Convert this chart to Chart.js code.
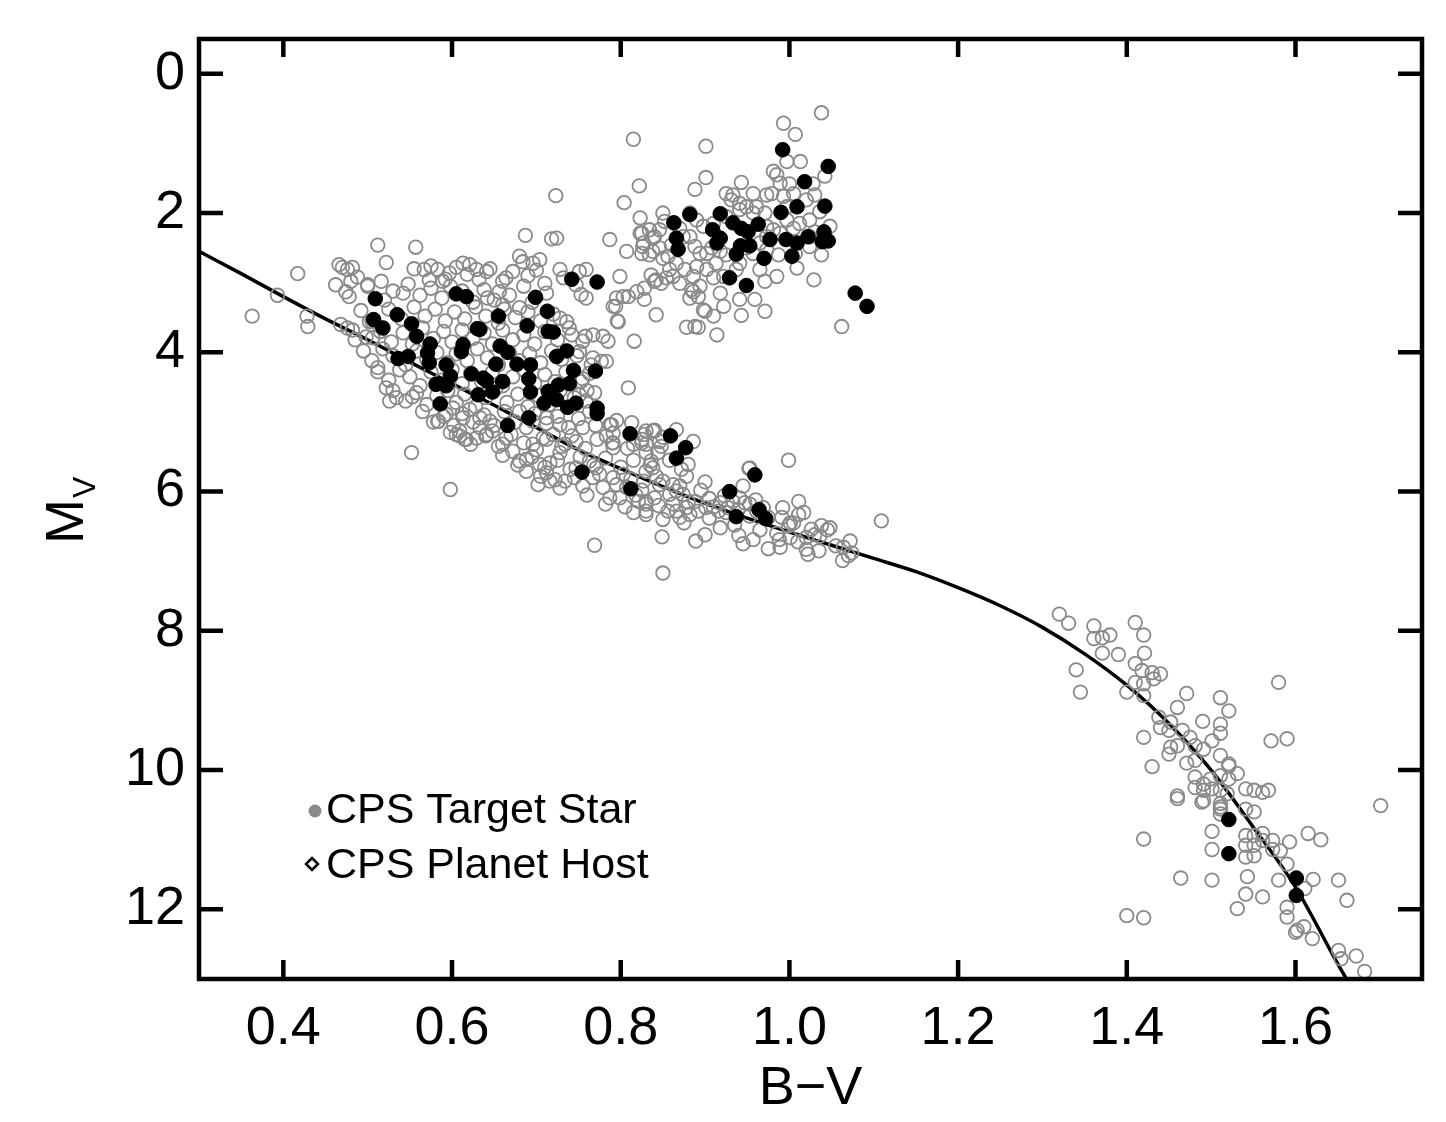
<!DOCTYPE html>
<html lang="en">
<head>
<meta charset="UTF-8">
<title>CPS targets - B-V vs M_V</title>
<script src="https://cdn.jsdelivr.net/npm/chart.js"></script>
<style>
  html, body { margin: 0; padding: 0; background: #fff; }
  #wrap { width: 1446px; height: 1122px; position: relative; }
</style>
</head>
<body>
<div id="wrap"><canvas id="hrChart"></canvas></div>
<script>
// axis ticks
const xTicks = [0.4, 0.6, 0.8, 1.0, 1.2, 1.4, 1.6];
const yTicks = [0, 2, 4, 6, 8, 10, 12];

// main sequence curve (B-V, Mv)
const curveBV = [0.30, 0.35, 0.40, 0.45, 0.50, 0.55, 0.60, 0.65, 0.70, 0.75, 0.80, 0.85, 0.90, 0.95, 1.00,
                 1.05, 1.10, 1.15, 1.20, 1.25, 1.30, 1.35, 1.40, 1.45, 1.50, 1.55, 1.60, 1.65, 1.67];
const curveMV = [2.55, 2.87, 3.20, 3.52, 3.82, 4.14, 4.45, 4.76, 5.08, 5.40, 5.67, 5.93, 6.17, 6.38, 6.58,
                 6.77, 6.96, 7.15, 7.38, 7.64, 7.95, 8.33, 8.78, 9.33, 10.00, 10.82, 11.68, 12.78, 13.20];

// CPS target stars, [B-V, Mv]
const targetsGiant = [
  [0.815,0.94],[0.901,1.04],[0.993,0.71],[1.007,0.87],[1.038,0.56],[0.822,1.61],[0.804,1.85],[0.888,1.66],
  [0.901,1.49],[0.943,1.56],[1.013,1.26],[0.997,1.26],[0.981,1.40],[0.985,1.45],[0.989,1.57],[1.000,1.58],
  [1.028,1.58],[1.042,1.47],[1.030,1.74],[1.005,1.72],[0.973,1.74],[0.961,1.91],[0.941,1.86],[0.933,1.74],
  [0.925,1.72],[0.931,1.81],[0.949,1.91],[0.957,2.00],[0.971,2.00],[0.997,1.91],[1.020,1.81],[1.036,1.98],
  [1.048,2.19],[1.024,2.10],[1.012,2.15],[1.005,2.22],[0.989,2.29],[0.981,2.24],[0.973,2.34],[0.965,2.43],
  [0.957,2.58],[0.987,2.60],[1.007,2.58],[1.024,2.48],[1.038,2.60],[1.009,2.79],[1.029,2.96],[1.062,3.63],
  [0.971,2.98],[0.959,3.24],[0.971,3.41],[0.943,3.47],[0.985,2.91],[0.965,2.81],[0.941,2.72],[0.925,2.60],
  [0.913,2.72],[0.937,2.81],[0.922,2.91],[0.910,2.93],[0.902,2.81],[0.890,2.77],[0.886,2.91],[0.892,3.20],
  [0.898,3.39],[0.910,3.48],[0.914,3.75],[0.888,3.63],[0.878,3.64],[0.882,2.00],[0.890,2.10],[0.898,2.19],
  [0.910,2.15],[0.925,2.05],[0.941,1.95],[0.870,2.22],[0.874,2.34],[0.882,2.34],[0.888,2.48],[0.894,2.58],
  [0.902,2.58],[0.908,2.50],[0.850,2.00],[0.852,2.12],[0.846,2.24],[0.840,2.34],[0.834,2.24],[0.823,2.29],
  [0.827,2.43],[0.838,2.55],[0.846,2.50],[0.850,2.65],[0.856,2.62],[0.823,2.07],[0.825,2.58],[0.807,2.55],
  [0.787,2.38],[0.836,2.89],[0.842,2.96],[0.848,3.01],[0.854,2.93],[0.799,2.91],[0.828,3.08],[0.819,3.13],
  [0.809,3.20],[0.795,3.22],[0.791,3.34],[0.842,3.46],[0.797,3.56],[0.858,2.81],[0.866,2.72],[0.876,2.81],
  [0.870,3.01],[0.884,3.10],[0.918,3.15],[0.941,3.24],[0.860,2.46],[0.918,2.55],[0.949,2.50],[0.973,2.53],
  [1.024,2.34],[1.030,2.27],[0.973,2.19],[0.997,2.10],[0.993,1.76],[0.979,1.72],[0.957,1.72],[0.723,1.75],
  [0.816,3.84],[0.900,3.41],[0.922,3.34],[0.886,3.13],[0.894,3.05],[0.882,3.22],[0.840,2.98],[0.862,2.91],
  [0.803,3.20],[0.828,3.24],[0.794,3.34],[0.796,3.55],[0.826,2.48],[0.825,2.29],[0.838,2.36],[0.834,2.60],
  [0.892,3.64]
];

const targetsSubgiant = [
  [0.687,2.32],[0.718,2.37],[0.724,2.36],[0.751,2.84],[0.759,2.81],[0.747,3.03],[0.753,3.17],[0.759,3.22],
  [0.728,2.81],[0.732,2.93],[0.710,3.01],[0.712,3.15],[0.704,2.67],[0.696,2.72],[0.684,2.70],[0.680,2.62],
  [0.672,2.84],[0.664,2.93],[0.656,3.13],[0.641,2.84],[0.642,3.22],[0.660,3.32],[0.680,3.36],[0.728,3.51],
  [0.736,3.56],[0.739,3.65],[0.755,3.84],[0.751,3.99],[0.758,3.77],[0.767,3.75],[0.779,3.77],[0.785,3.84],
  [0.767,4.08],[0.777,4.13],[0.783,4.13],[0.763,4.30],[0.753,4.42],[0.769,4.58],[0.751,4.61],[0.759,4.70],
  [0.763,4.85],[0.789,5.04],[0.813,5.01],[0.830,5.13],[0.840,5.12],[0.825,5.25],[0.846,5.28],[0.866,5.11],
  [0.886,5.28],[0.783,5.20],[0.791,5.30],[0.809,4.51]
];

const targetsMS = [
  // sparse upper-left edge
  [0.512,2.46],[0.557,2.49],[0.522,2.71],[0.417,2.87],[0.466,2.74],[0.476,2.81],[0.482,2.78],[0.462,3.03],
  [0.474,3.13],[0.478,3.20],[0.480,2.98],[0.393,3.18],[0.363,3.48],[0.428,3.48],[0.429,3.63],[0.468,3.60],
  [0.476,3.65],[0.485,3.82],[0.500,3.03],[0.516,2.98],[0.542,3.15],[0.502,3.56],[0.506,3.79],[0.512,4.22],
  [0.522,4.51],[0.526,4.70],[0.534,4.65],[0.553,4.64],[0.584,4.99],[0.609,5.20],[0.617,5.25],[0.552,5.44],
  [0.567,2.81],[0.583,2.81],[0.597,2.86],[0.613,2.72],[0.621,2.74],[0.629,2.81],[0.573,2.96],[0.589,2.98],
  [0.598,5.97],
  // dense core
  [0.470,2.78],[0.488,2.92],[0.555,2.80],[0.575,2.76],[0.592,2.95],[0.605,2.78],[0.618,2.88],[0.632,2.95],
  [0.645,2.80],[0.660,2.98],[0.690,2.90],[0.700,2.82],
  [0.500,3.05],[0.520,3.25],[0.530,3.12],[0.548,3.02],[0.562,3.18],[0.575,3.08],[0.588,3.22],[0.598,3.05],
  [0.612,3.12],[0.625,3.28],[0.638,3.10],[0.650,3.25],[0.668,3.18],[0.685,3.05],[0.695,3.28],
  [0.492,3.40],[0.505,3.55],[0.525,3.38],[0.540,3.52],[0.555,3.35],[0.568,3.48],[0.580,3.38],[0.592,3.55],
  [0.603,3.42],[0.615,3.52],[0.628,3.35],[0.640,3.48],[0.655,3.58],[0.662,3.38],[0.675,3.50],[0.690,3.42],
  [0.705,3.55],[0.720,3.45],
  [0.482,3.68],[0.498,3.78],[0.515,3.70],[0.528,3.85],[0.542,3.72],[0.553,3.88],[0.565,3.65],[0.578,3.80],
  [0.590,3.70],[0.600,3.85],[0.612,3.68],[0.625,3.80],[0.638,3.72],[0.648,3.88],[0.660,3.68],[0.672,3.82],
  [0.685,3.75],[0.698,3.88],[0.710,3.70],[0.725,3.82],[0.742,3.75],
  [0.495,3.98],[0.505,4.12],[0.518,3.95],[0.530,4.05],[0.545,4.18],[0.558,3.98],[0.570,4.10],[0.582,4.00],
  [0.595,4.15],[0.605,4.02],[0.618,4.12],[0.630,3.95],[0.642,4.08],[0.655,4.18],[0.668,4.00],[0.680,4.12],
  [0.692,4.02],[0.705,4.15],[0.718,3.98],[0.730,4.10],[0.748,4.05],[0.765,4.18],
  [0.512,4.28],[0.525,4.40],[0.538,4.25],[0.550,4.35],[0.562,4.48],[0.575,4.28],[0.588,4.40],[0.600,4.25],
  [0.612,4.45],[0.622,4.30],[0.635,4.42],[0.648,4.28],[0.660,4.48],[0.672,4.35],[0.685,4.25],[0.698,4.45],
  [0.710,4.32],[0.722,4.42],[0.735,4.28],[0.755,4.38],
  [0.530,4.55],[0.545,4.70],[0.558,4.58],[0.570,4.75],[0.582,4.62],[0.595,4.55],[0.605,4.72],[0.615,4.60],
  [0.628,4.78],[0.640,4.65],[0.652,4.52],[0.665,4.72],[0.678,4.60],[0.690,4.78],[0.702,4.62],[0.715,4.75],
  [0.728,4.55],[0.745,4.65],[0.760,4.55],
  [0.565,4.85],[0.578,5.00],[0.590,4.92],[0.602,5.05],[0.612,4.88],[0.625,5.00],[0.638,4.90],[0.650,5.05],
  [0.662,4.85],[0.675,5.00],[0.688,5.08],[0.698,4.88],[0.712,5.02],[0.725,4.92],[0.738,5.08],[0.750,4.95],
  [0.770,5.05],[0.795,4.98],
  [0.598,5.15],[0.622,5.32],[0.640,5.20],[0.655,5.35],[0.670,5.18],[0.685,5.30],[0.700,5.40],[0.712,5.25],
  [0.730,5.35],[0.742,5.20],[0.758,5.38],[0.772,5.25],[0.790,5.30],[0.808,5.38],[0.825,5.30],[0.850,5.22],
  [0.660,5.48],[0.678,5.62],[0.695,5.50],[0.710,5.65],[0.725,5.55],[0.740,5.68],[0.752,5.50],[0.768,5.62],
  [0.782,5.52],[0.800,5.65],[0.815,5.55],[0.835,5.62],[0.858,5.55],[0.872,5.68],
  [0.705,5.78],[0.728,5.95],[0.745,5.80],[0.775,5.75],[0.795,5.90],[0.812,5.82],[0.825,5.98],[0.850,5.85],
  [0.870,5.92],[0.895,5.98],
  [0.760,6.05],[0.782,6.18],[0.805,6.22],[0.818,6.05],[0.845,6.20],[0.880,6.15],[0.905,6.10],[0.925,6.30],
  [0.960,6.12],
  [0.850,6.40],[0.875,6.45],[0.905,6.38],[0.935,6.48],[0.965,6.55],[0.985,6.60],[1.005,6.45],[1.030,6.62],
  [1.045,6.55],
  [0.900,6.62],[0.945,6.75],[0.975,6.82],[1.010,6.72],[1.035,6.85],[1.055,6.78],[1.070,6.92],
  // lower main sequence band
  [0.583,4.99],[0.609,5.13],[0.615,5.25],[0.605,5.18],[0.633,5.08],[0.645,4.99],[0.660,5.32],[0.680,5.56],
  [0.688,5.54],[0.704,5.61],[0.702,5.90],[0.716,5.85],[0.722,5.83],[0.734,5.85],[0.716,5.59],[0.728,5.44],
  [0.734,5.32],[0.747,5.28],[0.755,5.08],[0.763,5.56],[0.767,5.80],[0.755,5.92],[0.779,5.94],[0.787,6.09],
  [0.791,5.80],[0.803,5.75],[0.815,6.30],[0.830,6.28],[0.830,6.14],[0.821,6.14],[0.799,6.09],[0.807,5.94],
  [0.827,5.85],[0.838,5.66],[0.844,5.44],[0.830,5.32],[0.815,5.32],[0.791,5.37],[0.791,5.16],[0.787,5.04],
  [0.838,5.13],[0.858,6.04],[0.866,6.28],[0.771,5.66],[0.747,5.66],[0.712,5.73],[0.688,5.71],[0.672,5.42],
  [0.696,5.32],[0.708,5.23],[0.720,5.18],[0.728,5.04],[0.712,4.94],[0.696,4.99],[0.680,4.85],[0.664,5.23],
  [0.648,5.13],[0.633,4.94],[0.621,4.82],[0.613,4.94],[0.601,4.80],[0.593,4.89],[0.629,5.23],[0.641,5.18],
  [0.769,6.77],[0.849,6.65],[0.850,7.17],
  [0.999,5.55],[0.900,5.86],[0.952,5.67],[0.945,5.92],[0.889,6.71],[0.918,6.52],[0.940,6.63],[0.957,6.69],
  [0.989,6.80],[0.988,6.69],[1.001,6.66],[1.011,6.14],[1.011,6.33],[1.017,6.30],[0.992,6.23],[0.999,6.49],
  [1.020,6.66],[1.020,6.83],[1.022,6.90],[1.026,6.54],[1.038,6.49],[1.048,6.52],[1.036,6.64],[1.064,6.80],
  [1.072,6.71],[1.074,6.88],[1.063,6.99],[1.109,6.42],[0.939,6.26],[0.947,6.16],[0.953,5.66],[0.918,6.16],
  [0.927,6.23],[0.910,6.22],[0.901,6.23],[0.892,6.28],[0.882,6.33],[0.870,6.37],[0.888,6.14],[0.878,6.23],
  [0.862,6.18],[0.856,6.28],[0.830,6.33],[0.830,6.18],[0.840,6.09],[0.846,5.90],[0.862,5.90],[0.866,5.99],
  [0.874,6.04],[0.878,5.78],[0.880,5.61],[0.842,5.78],[0.830,5.71],[0.836,5.56],[0.828,5.18],[0.840,5.13],
  [0.848,5.35],[0.830,5.44],[0.923,6.06],[0.933,6.14],[0.941,6.09],[0.953,6.18],[0.961,6.28],[0.969,6.23],
  [0.975,6.37],[0.991,6.37],[1.001,6.45],[0.916,6.28],[0.953,6.35]
];

const targetsRed = [
  [1.320,7.76],[1.331,7.89],[1.340,8.56],[1.345,8.88],[1.361,7.93],[1.361,8.11],[1.371,8.10],[1.380,8.06],
  [1.371,8.32],[1.390,8.34],[1.410,7.88],[1.420,8.06],[1.421,8.32],[1.410,8.47],[1.418,8.57],[1.430,8.60],
  [1.440,8.62],[1.432,8.69],[1.410,8.74],[1.420,8.76],[1.400,8.88],[1.420,8.93],[1.471,8.90],[1.460,9.10],
  [1.438,9.24],[1.440,9.39],[1.452,9.31],[1.450,9.43],[1.466,9.43],[1.420,9.53],[1.511,8.96],[1.521,9.15],
  [1.490,9.30],[1.511,9.34],[1.511,9.47],[1.501,9.58],[1.475,9.53],[1.481,9.65],[1.460,9.65],[1.450,9.77],
  [1.452,9.67],[1.491,9.70],[1.430,9.95],[1.471,9.90],[1.481,9.86],[1.511,9.79],[1.521,9.91],[1.531,10.05],
  [1.481,10.10],[1.499,10.13],[1.511,10.08],[1.521,10.13],[1.481,10.25],[1.491,10.29],[1.501,10.27],
  [1.511,10.29],[1.541,10.27],[1.551,10.29],[1.561,10.32],[1.568,10.29],[1.580,8.74],[1.571,9.58],
  [1.590,9.55],[1.460,10.37],[1.460,10.41],[1.491,10.44],[1.511,10.48],[1.519,10.34],[1.541,10.56],
  [1.551,10.60],[1.511,10.56],[1.420,10.99],[1.400,12.09],[1.420,12.12],[1.464,11.55],[1.501,11.58],
  [1.501,11.14],[1.501,10.88],[1.531,11.99],[1.541,11.78],[1.561,11.82],[1.543,11.53],[1.511,10.53],
  [1.511,10.63],[1.541,10.94],[1.541,11.08],[1.541,11.25],[1.551,10.94],[1.551,11.08],[1.551,11.23],
  [1.561,10.91],[1.561,11.01],[1.573,11.01],[1.573,11.14],[1.582,11.16],[1.593,11.03],[1.590,11.35],
  [1.580,11.58],[1.615,10.91],[1.630,11.00],[1.621,11.57],[1.611,11.70],[1.651,11.58],[1.661,11.87],
  [1.701,10.51],[1.590,11.97],[1.590,12.11],[1.600,12.33],[1.610,12.25],[1.620,12.42],[1.651,12.59],
  [1.654,12.71],[1.672,12.67],[1.682,12.89],[1.491,10.20],[1.521,9.94],[1.489,10.46],[1.602,12.30]
];

// CPS planet hosts, [B-V, Mv]
const hostsGiant = [
  [0.992,1.09],[1.046,1.33],[1.018,1.55],[1.042,1.90],[1.009,1.91],[0.990,1.99],[0.918,2.01],[0.882,2.02],
  [0.863,2.14],[0.909,2.24],[0.933,2.14],[0.943,2.22],[0.951,2.27],[0.963,2.16],[0.866,2.36],[0.868,2.52],
  [0.918,2.36],[0.914,2.43],[0.942,2.47],[0.953,2.47],[0.937,2.59],[0.977,2.38],[0.996,2.38],[1.009,2.43],
  [1.022,2.34],[1.041,2.27],[1.046,2.40],[1.039,2.41],[0.970,2.65],[1.003,2.62],[0.929,2.93],[0.949,3.04],
  [1.078,3.15],[1.092,3.34]
];

const hostsMS = [
  [0.509,3.23],[0.507,3.53],[0.518,3.65],[0.535,3.46],[0.552,3.59],[0.558,3.77],[0.574,3.88],[0.571,4.01],
  [0.573,4.15],[0.536,4.09],[0.548,4.06],[0.605,3.16],[0.617,3.20],[0.630,3.66],[0.613,3.89],[0.611,3.99],
  [0.593,4.18],[0.598,4.34],[0.581,4.46],[0.593,4.48],[0.623,4.31],[0.637,4.37],[0.631,4.61],[0.586,4.74],
  [0.742,2.95],[0.772,2.99],[0.699,3.21],[0.713,3.41],[0.655,3.48],[0.689,3.62],[0.633,3.67],[0.714,3.70],
  [0.720,3.71],[0.657,3.91],[0.666,4.00],[0.736,3.98],[0.724,4.06],[0.652,4.17],[0.677,4.17],[0.693,4.18],
  [0.744,4.26],[0.770,4.27],[0.641,4.41],[0.660,4.42],[0.691,4.38],[0.726,4.47],[0.739,4.45],[0.648,4.57],
  [0.693,4.57],[0.714,4.56],[0.709,4.73],[0.724,4.68],[0.737,4.79],[0.747,4.73],[0.772,4.80],[0.772,4.88],
  [0.691,4.94],[0.666,5.05],[0.811,5.17],[0.859,5.20],[0.877,5.37],[0.866,5.52],[0.754,5.72],[0.812,5.96],
  [0.959,5.76],[0.929,6.00],[0.964,6.26],[0.972,6.39],[0.937,6.36]
];

const hostsRed = [[1.521,10.71],[1.521,11.20],[1.601,11.55],[1.601,11.80]];

const FONT = "'Liberation Sans', Arial, Helvetica, sans-serif";
const GREY = '#8a8a8a';

const toXY = arr => arr.map(p => ({ x: p[0], y: p[1] }));
const targets = toXY([].concat(targetsGiant, targetsSubgiant, targetsMS, targetsRed));
const hosts = toXY([].concat(hostsGiant, hostsMS, hostsRed));
const curve = curveBV.map((bv, i) => ({ x: bv, y: curveMV[i] }));

// frame, inside tick marks, axis titles and the legend text
const decorPlugin = {
  id: 'decor',
  afterDraw(chart) {
    const { ctx, chartArea: a, scales } = chart;
    ctx.save();
    ctx.strokeStyle = '#000';
    ctx.lineCap = 'butt';

    ctx.lineWidth = 4.5;
    xTicks.forEach(v => {
      const px = scales.x.getPixelForValue(v);
      ctx.beginPath();
      ctx.moveTo(px, a.bottom); ctx.lineTo(px, a.bottom - 19);
      ctx.moveTo(px, a.top); ctx.lineTo(px, a.top + 18);
      ctx.stroke();
    });
    yTicks.forEach(v => {
      const py = scales.y.getPixelForValue(v);
      ctx.beginPath();
      ctx.moveTo(a.left, py); ctx.lineTo(a.left + 24, py);
      ctx.moveTo(a.right, py); ctx.lineTo(a.right - 24, py);
      ctx.stroke();
    });

    ctx.lineJoin = 'miter';
    ctx.strokeRect(a.left, a.top, a.right - a.left, a.bottom - a.top);

    ctx.fillStyle = '#000';
    // x title
    ctx.font = '54px ' + FONT;
    ctx.textAlign = 'center';
    ctx.textBaseline = 'alphabetic';
    ctx.fillText('B\u2212V', (a.left + a.right) / 2, 1104);

    // y title M with subscript V
    ctx.save();
    ctx.translate(83, 544);
    ctx.rotate(-Math.PI / 2);
    ctx.textAlign = 'left';
    ctx.font = '54px ' + FONT;
    ctx.fillText('M', 0, 0);
    const mw = ctx.measureText('M').width;
    ctx.font = '32px ' + FONT;
    ctx.fillText('V', mw + 1, 12);
    ctx.restore();

    // legend
    ctx.font = '43px ' + FONT;
    ctx.textAlign = 'left';
    ctx.fillStyle = GREY;
    ctx.beginPath();
    ctx.arc(315, 811, 6.5, 0, Math.PI * 2);
    ctx.fill();
    ctx.fillStyle = '#000';
    ctx.fillText('CPS Target Star', 326, 823);

    ctx.lineWidth = 2.5;
    ctx.beginPath();
    ctx.moveTo(312, 858); ctx.lineTo(318, 864); ctx.lineTo(312, 870); ctx.lineTo(306, 864);
    ctx.closePath();
    ctx.stroke();
    ctx.fillText('CPS Planet Host', 326, 878);
    ctx.restore();
  }
};

// keep the plot box fixed: no extra room for the end tick labels
const noEdgePadding = s => {
  s.paddingTop = 0; s.paddingBottom = 0; s.paddingLeft = 0; s.paddingRight = 0;
};

const ctx = document.getElementById('hrChart').getContext('2d');
new Chart(ctx, {
  type: 'scatter',
  data: {
    datasets: [
      {
        label: 'CPS Planet Host',
        data: hosts,
        order: 0,
        clip: 0,
        pointRadius: 7.3,
        pointBorderWidth: 1,
        pointBackgroundColor: '#000',
        pointBorderColor: '#000'
      },
      {
        label: 'CPS Target Star',
        data: targets,
        order: 1,
        clip: 0,
        pointRadius: 6.8,
        pointBorderWidth: 1.8,
        pointBackgroundColor: 'rgba(0,0,0,0)',
        pointBorderColor: GREY
      },
      {
        type: 'line',
        label: 'main sequence',
        data: curve,
        order: 2,
        clip: 0,
        showLine: true,
        borderColor: '#000',
        borderWidth: 3.5,
        pointRadius: 0,
        fill: false,
        cubicInterpolationMode: 'monotone'
      }
    ]
  },
  options: {
    responsive: true,
    maintainAspectRatio: false,
    animation: false,
    layout: { padding: { top: 39, right: 24, left: 0, bottom: 0 } },
    plugins: { legend: { display: false }, tooltip: { enabled: false } },
    scales: {
      x: {
        type: 'linear',
        min: 0.3,
        max: 1.75,
        grid: { display: false, drawTicks: false },
        border: { display: false },
        ticks: {
          color: '#000',
          font: { family: FONT, size: 54 },
          padding: 18,
          autoSkip: false,
          maxRotation: 0,
          callback: v => v.toFixed(1)
        },
        afterBuildTicks: s => { s.ticks = xTicks.map(v => ({ value: v })); },
        afterFit: s => { s.height = 143; noEdgePadding(s); }
      },
      y: {
        type: 'linear',
        reverse: true,
        min: -0.5,
        max: 13,
        grid: { display: false, drawTicks: false },
        border: { display: false },
        ticks: {
          color: '#000',
          font: { family: FONT, size: 54 },
          padding: 14,
          autoSkip: false,
          callback: v => String(v)
        },
        afterBuildTicks: s => { s.ticks = yTicks.map(v => ({ value: v })); },
        afterFit: s => { s.width = 199; noEdgePadding(s); }
      }
    }
  },
  plugins: [decorPlugin]
});
</script>
</body>
</html>
